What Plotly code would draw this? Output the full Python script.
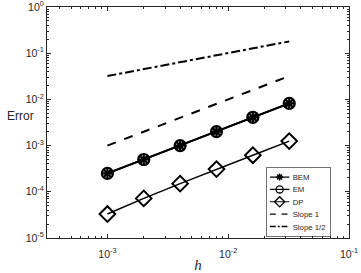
import numpy as np
import plotly.graph_objects as go

h = [1e-3, 2e-3, 4e-3, 8e-3, 1.6e-2, 3.2e-2]
err_bem = [2.5e-4, 5.0e-4, 1.0e-3, 2.0e-3, 4.1e-3, 8.2e-3]
err_em = [2.5e-4, 5.0e-4, 1.0e-3, 2.0e-3, 4.1e-3, 8.2e-3]
err_dp = [3.3e-5, 7.2e-5, 1.5e-4, 3.1e-4, 6.2e-4, 1.25e-3]
slope1_x = [1e-3, 3.2e-2]
slope1_y = [1.0e-3, 3.2e-2]
slope12_x = [1e-3, 3.2e-2]
slope12_y = [3.2e-2, 1.8e-1]
x_tickvals = [1e-3, 1e-2, 1e-1]
x_ticktext = ["10<sup>-3</sup>", "10<sup>-2</sup>", "10<sup>-1</sup>"]
y_tickvals = [1e-5, 1e-4, 1e-3, 1e-2, 1e-1, 1e0]
y_ticktext = ["10<sup>-5</sup>", "10<sup>-4</sup>", "10<sup>-3</sup>", "10<sup>-2</sup>", "10<sup>-1</sup>", "10<sup>0</sup>"]

FONT = "Liberation Sans, Arial, sans-serif"
AX = "#262626"

fig = go.Figure()
fig.add_trace(go.Scatter(x=h, y=err_em, name="EM", mode="lines+markers",
                         line=dict(color="black", width=2),
                         marker=dict(symbol="circle-open", size=11, color="black", line=dict(width=2.2)),
                         showlegend=False))
fig.add_trace(go.Scatter(x=h, y=err_bem, name="BEM", mode="lines+markers",
                         line=dict(color="black", width=2),
                         marker=dict(symbol="asterisk-open", size=9, color="black", line=dict(width=2.2))))
fig.add_trace(go.Scatter(x=[None], y=[None], name="EM", mode="lines+markers",
                         line=dict(color="black", width=2),
                         marker=dict(symbol="circle-open", size=11, color="black", line=dict(width=2))))
fig.add_trace(go.Scatter(x=h, y=err_dp, name="DP", mode="lines+markers",
                         line=dict(color="black", width=1.5),
                         marker=dict(symbol="diamond-open", size=12, color="black", line=dict(width=2))))
fig.add_trace(go.Scatter(x=slope1_x, y=slope1_y, name="Slope 1", mode="lines",
                         line=dict(color="black", width=2, dash="dash")))
fig.add_trace(go.Scatter(x=slope12_x, y=slope12_y, name="Slope 1/2", mode="lines",
                         line=dict(color="black", width=2, dash="dashdot")))

def minor_vals(lo, hi):
    v = []
    for e in range(lo, hi):
        for m in range(2, 10):
            v.append(m * 10.0 ** e)
    return v

fig.update_xaxes(type="log", range=[-3.5, -1], tickvals=x_tickvals, ticktext=x_ticktext,
                 ticks="inside", ticklen=4, tickcolor=AX, showline=True, linecolor=AX, linewidth=1,
                 mirror="allticks", showgrid=False, zeroline=False, automargin=False,
                 ticklabeloverflow="allow", ticklabelstandoff=6,
                 minor=dict(tickvals=minor_vals(-4, -1), ticks="inside", ticklen=2, tickcolor=AX, showgrid=False),
                 tickfont=dict(family=FONT, size=10.5, color=AX),
                 title=dict(text="<i>h</i>", font=dict(family="Liberation Serif, serif", size=15, color=AX), standoff=4))
fig.update_yaxes(type="log", range=[-5, 0], tickvals=y_tickvals, ticktext=y_ticktext,
                 ticks="inside", ticklen=4, tickcolor=AX, showline=True, linecolor=AX, linewidth=1,
                 mirror="allticks", showgrid=False, zeroline=False, automargin=False,
                 ticklabeloverflow="allow",
                 minor=dict(tickvals=minor_vals(-5, 0), ticks="inside", ticklen=2, tickcolor=AX, showgrid=False),
                 tickfont=dict(family=FONT, size=10.5, color=AX))

fig.add_annotation(text="Error", xref="paper", yref="paper", x=0, y=0.53, xshift=-11,
                   showarrow=False, xanchor="right", yanchor="middle",
                   font=dict(family=FONT, size=12, color=AX))

fig.update_layout(template="none", width=361, height=273, margin=dict(l=47, r=12, t=7, b=35),
                  paper_bgcolor="white", plot_bgcolor="white",
                  font=dict(family=FONT, color=AX),
                  legend=dict(x=0.02, y=0.98, xanchor="left", yanchor="top",
                              bgcolor="white", bordercolor=AX, borderwidth=1,
                              font=dict(family=FONT, size=12, color=AX),
                              tracegroupgap=0, itemsizing="trace", itemwidth=30,
                              traceorder="normal"))

post = """
document.body.style.margin='0';
document.body.style.overflow='hidden';
var lg = document.querySelector('g.legend');
if (lg) { lg.setAttribute('transform', 'translate(266,167) scale(0.65)'); }
"""
fig.write_html("out.html", config={"displayModeBar": False}, post_script=post)
